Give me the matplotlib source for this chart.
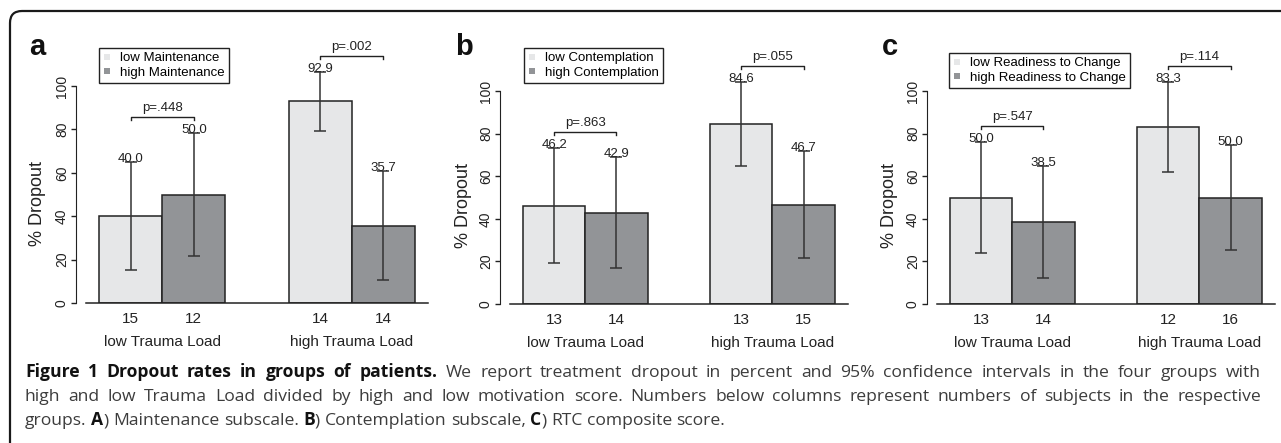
import matplotlib
matplotlib.use("Agg")
import matplotlib.pyplot as plt
import matplotlib.patches as mpatches
from matplotlib.lines import Line2D
from matplotlib.transforms import IdentityTransform

# ---- data ----
groups = ["low Trauma Load", "high Trauma Load"]

pct_a = [40.0, 50.0, 92.9, 35.7]
lo_a = [15.2, 21.7, 79.4, 10.6]
hi_a = [64.8, 78.3, 106.4, 60.8]
n_a = ["15", "12", "14", "14"]
p_a = ["p=.448", "p=.002"]
leg_a = ["low Maintenance", "high Maintenance"]

pct_b = [46.2, 42.9, 84.6, 46.7]
lo_b = [19.1, 16.9, 65.0, 21.4]
hi_b = [73.3, 68.8, 104.2, 71.9]
n_b = ["13", "14", "13", "15"]
p_b = ["p=.863", "p=.055"]
leg_b = ["low Contemplation", "high Contemplation"]

pct_c = [50.0, 38.5, 83.3, 50.0]
lo_c = [23.8, 12.0, 62.2, 25.5]
hi_c = [76.2, 65.0, 104.4, 74.5]
n_c = ["13", "14", "12", "16"]
p_c = ["p=.547", "p=.114"]
leg_c = ["low Readiness to Change", "high Readiness to Change"]

W, H = 1281, 443
LIGHT = "#e6e7e8"
DARK = "#929497"
INK = "#222222"
FONT = "Liberation Sans"

plt.rcParams["font.family"] = FONT
fig = plt.figure(figsize=(W / 100, H / 100), dpi=100)


def px_axes(left, top, right, bottom):
    return fig.add_axes([left / W, 1 - bottom / H, (right - left) / W, (bottom - top) / H])


def panel(box, pct, lo, hi, ns, pvals, labels, leg_xy):
    ax = px_axes(*box)
    xs = [0.5, 1.5, 3.5, 4.5]
    cols = [LIGHT, DARK, LIGHT, DARK]
    ax.set_xlim(-0.367, 5.21)
    ax.set_ylim(0, 100)
    ax.bar(xs, pct, width=1.0, color=cols, edgecolor=INK, linewidth=1.1, zorder=2)
    yerr = [[p - l for p, l in zip(pct, lo)], [h - p for p, h in zip(pct, hi)]]
    eb = ax.errorbar(xs, pct, yerr=yerr, fmt="none", ecolor="#333333",
                     elinewidth=1.1, capsize=4.3, capthick=1.1, zorder=3)
    for art in eb.get_children():
        art.set_clip_on(False)
    ax.plot([-0.207, 5.21], [0, 0], color=INK, lw=1.1, clip_on=False)

    for x, v, h, n in zip(xs, pct, hi, ns):
        ax.text(x, h, f"{v:.1f}", ha="center", va="baseline", fontsize=9.5,
                color=INK, clip_on=False)
        ax.annotate(n, (x, 0), xytext=(0, -11.5), textcoords="offset points",
                    ha="center", va="center", fontsize=11, color=INK,
                    annotation_clip=False)

    for g in range(2):
        x0, x1 = xs[2 * g], xs[2 * g + 1]
        yb = max(hi[2 * g], hi[2 * g + 1]) + 7.5
        ax.plot([x0, x0, x1, x1], [yb - 1.5, yb, yb, yb - 1.5], color=INK,
                lw=1.0, clip_on=False)
        ax.annotate(pvals[g], ((x0 + x1) / 2, yb), xytext=(0, 2),
                    textcoords="offset points", ha="center", va="bottom",
                    fontsize=9.5, color=INK, annotation_clip=False)
        ax.annotate(groups[g], ((x0 + x1) / 2, 0), xytext=(0, -28),
                    textcoords="offset points", ha="center", va="center",
                    fontsize=11, color=INK, annotation_clip=False)

    for s in ["top", "right", "bottom"]:
        ax.spines[s].set_visible(False)
    ax.spines["left"].set_bounds(0, 100)
    ax.spines["left"].set_color(INK)
    ax.set_xticks([])
    ax.set_yticks([0, 20, 40, 60, 80, 100])
    ax.tick_params(axis="y", direction="out", length=3.6, width=1.0,
                   pad=1.5, labelsize=10, colors=INK)
    plt.setp(ax.get_yticklabels(), rotation=90, va="center")
    ax.patch.set_visible(False)

    handles = [Line2D([], [], marker="s", ls="none", markersize=4.5,
                      color=c, markeredgewidth=0) for c in (LIGHT, DARK)]
    leg = ax.legend(handles, labels, loc="upper left",
                    bbox_to_anchor=(leg_xy[0] / W, 1 - leg_xy[1] / H),
                    bbox_transform=fig.transFigure, borderaxespad=0,
                    fancybox=False, framealpha=1, edgecolor=INK,
                    fontsize=9.5, borderpad=0.3, handlelength=0.6,
                    handletextpad=0.7, labelspacing=0.2)
    leg.get_frame().set_linewidth(1.0)
    return ax


panel((76, 86, 428, 303), pct_a, lo_a, hi_a, n_a, p_a, leg_a, (99, 48))
panel((500, 91, 848, 304), pct_b, lo_b, hi_b, n_b, p_b, leg_b, (524, 48))
panel((927, 91, 1275, 304), pct_c, lo_c, hi_c, n_c, p_c, leg_c, (949, 53))

# panel letters and y labels
for lx, letter in [(29, "a"), (455, "b"), (882, "c")]:
    fig.text(lx / W, 1 - 55 / H, letter, fontsize=21, fontweight="bold",
             ha="left", va="baseline", color="#111111")
for yx, yy in [(37, 203), (463, 206), (890, 206)]:
    fig.text(yx / W, 1 - yy / H, "% Dropout", rotation=90, fontsize=13,
             ha="center", va="center", color=INK)

# frame with rounded top-left corner
frame = mpatches.FancyBboxPatch((10, -60), 1320, 492,
                                boxstyle="round,pad=0,rounding_size=12",
                                transform=IdentityTransform(), fill=False,
                                edgecolor="#1a1a1a", lw=1.6)
fig.patches.append(frame)

# caption, justified like the source
CAP_FONT = "Open Sans"
CAP_FS = 12.6
renderer = fig.canvas.get_renderer()


def caption_line(y_px, words, justify):
    placed = []
    total = 0.0
    for word in words:
        parts = []
        for s, bold in word:
            t = fig.text(0, 0, s, fontsize=CAP_FS, family=CAP_FONT,
                         fontweight="bold" if bold else "normal",
                         color="#111111" if bold else "#3c3c3c",
                         va="baseline", ha="left")
            w = t.get_window_extent(renderer).width
            parts.append((t, w))
            total += w
        placed.append(parts)
    x0, x1 = 25, 1261
    if justify:
        gap = (x1 - x0 - total) / (len(placed) - 1)
    else:
        gap = CAP_FS * 100 / 72 * 0.26
    x = x0
    for parts in placed:
        for t, w in parts:
            t.set_position((x / W, 1 - y_px / H))
            x += w
        x += gap


def words_of(s, bold=False):
    return [[(w, bold)] for w in s.split()]


line1 = words_of("Figure 1 Dropout rates in groups of patients.", True) + \
    words_of("We report treatment dropout in percent and 95% confidence intervals in the four groups with")
line2 = words_of("high and low Trauma Load divided by high and low motivation score. "
                 "Numbers below columns represent numbers of subjects in the respective")
line3 = [[("groups.", False)], [("A", True), (")", False)]] + words_of("Maintenance subscale.") + \
    [[("B", True), (")", False)]] + words_of("Contemplation subscale,") + \
    [[("C", True), (")", False)]] + words_of("RTC composite score.")

caption_line(377, line1, True)
caption_line(401, line2, True)
caption_line(425, line3, False)

fig.savefig("out.png", dpi=100)
